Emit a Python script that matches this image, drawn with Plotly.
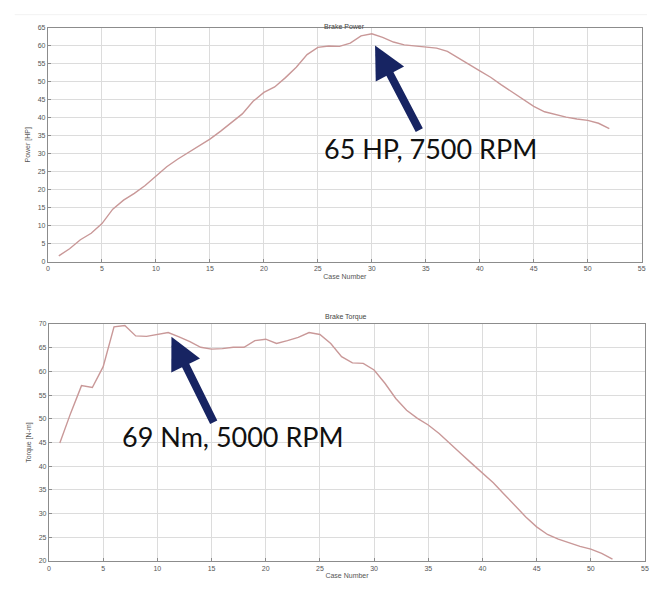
import plotly.graph_objects as go

cases = list(range(1, 53))
power_hp = [1.6, 3.6, 6.1, 7.9, 10.6, 14.6, 17.1, 19.0, 21.2, 23.7,
            26.4, 28.5, 30.4, 32.1, 34.1, 36.3, 38.6, 41.1, 44.6, 47.1,
            48.6, 51.2, 54.1, 57.6, 59.6, 60.0, 59.9, 60.8, 62.8, 63.4,
            62.4, 61.1, 60.3, 60.0, 59.8, 59.4, 58.5, 56.8, 54.9, 53.1,
            51.3, 49.2, 47.2, 45.1, 43.2, 41.7, 40.9, 40.2, 39.7, 39.3,
            38.5, 37.0]
torque_nm = [44.9, 51.2, 57.0, 56.6, 61.0, 69.4, 69.7, 67.5, 67.4, 67.8,
             68.2, 67.3, 66.3, 65.1, 64.7, 64.8, 65.1, 65.1, 66.5, 66.8,
             65.9, 66.5, 67.2, 68.2, 67.8, 65.9, 63.1, 61.8, 61.7, 60.3,
             57.5, 54.3, 51.8, 50.1, 48.7, 46.9, 44.9, 42.7, 40.6, 38.5,
             36.5, 34.1, 31.6, 29.3, 27.2, 25.6, 24.6, 23.8, 23.1, 22.5,
             21.6, 20.4]

line_col = "#c99898"
grid_col = "#dcdcdc"
box_col = "#8c8c8c"
tick_font = dict(family="Liberation Sans, Arial", size=7, color="#555555")
arrow_col = "#172462"

W, H = 663, 596
OFF = 8   # the page body adds an 8px margin around the figure
L, R, T, B = 48.3 - OFF, 645.0 - OFF, 28.3 - OFF, 560.7 - OFF
PW, PH = R - L, B - T


def px(x):
    return (x - OFF - L) / PW


def py(y):
    return (B - (y - OFF)) / PH


fig = go.Figure()

fig.add_trace(go.Scatter(x=cases, y=power_hp, mode="lines", xaxis="x", yaxis="y",
                         line=dict(color=line_col, width=1.4), showlegend=False))
fig.add_trace(go.Scatter(x=cases, y=torque_nm, mode="lines", xaxis="x2", yaxis="y2",
                         line=dict(color=line_col, width=1.4), showlegend=False))

ax_common = dict(showgrid=True, gridcolor=grid_col, gridwidth=1, zeroline=False,
                 showline=True, linecolor=box_col, linewidth=1.2, mirror=True,
                 ticks="inside", ticklen=3, tickcolor=box_col, tickfont=tick_font,
                 automargin=False)

fig.update_layout(
    width=W, height=H,
    margin=dict(l=L, r=W - R, t=T, b=H - B),
    paper_bgcolor="white", plot_bgcolor="white",
    xaxis=dict(domain=[px(48.3), px(641.7)], range=[0, 55], dtick=5, anchor="y",
               title=dict(text="Case Number", font=tick_font, standoff=2), **ax_common),
    yaxis=dict(domain=[py(261.7), py(28.3)], range=[0, 65], dtick=5, anchor="x",
               title=dict(text="Power [HP]", font=tick_font, standoff=6), **ax_common),
    xaxis2=dict(domain=[px(49.3), px(645)], range=[0, 55], dtick=5, anchor="y2",
                title=dict(text="Case Number", font=tick_font, standoff=2), **ax_common),
    yaxis2=dict(domain=[py(560.7), py(324)], range=[20, 70], dtick=5, anchor="x2",
                title=dict(text="Torque [N-m]", font=tick_font, standoff=6), **ax_common),
)

# chart titles
fig.add_annotation(text="Brake Power", xref="paper", yref="paper",
                   x=px(345), y=py(21), showarrow=False,
                   font=dict(family="Liberation Sans, Arial", size=7, color="#444444"))
fig.add_annotation(text="Brake Torque", xref="paper", yref="paper",
                   x=px(346), y=py(317), showarrow=False,
                   font=dict(family="Liberation Sans, Arial", size=7, color="#444444"))

# faint separator line above the top chart
fig.add_shape(type="line", xref="paper", yref="paper",
              x0=px(15), x1=px(647), y0=py(15), y1=py(15),
              line=dict(color="#f2f2f2", width=1))

# peak call-outs
fig.add_annotation(x=30.3, y=60.1, xref="x", yref="y", text="",
                   showarrow=True, arrowhead=2, arrowsize=0.8, arrowwidth=8,
                   arrowcolor=arrow_col, ax=45, ay=86)
fig.add_annotation(x=35.4, y=31.4, xref="x", yref="y", text="65 HP, 7500 RPM",
                   showarrow=False, font=dict(family="Lato", size=27, color="#111111"))

fig.add_annotation(x=11.3, y=67.3, xref="x2", yref="y2", text="",
                   showarrow=True, arrowhead=2, arrowsize=0.8, arrowwidth=8,
                   arrowcolor=arrow_col, ax=43, ay=87)
fig.add_annotation(x=17.0, y=46.3, xref="x2", yref="y2", text="69 Nm, 5000 RPM",
                   showarrow=False, font=dict(family="Lato", size=27, color="#111111"))

fig.write_html("out.html")
